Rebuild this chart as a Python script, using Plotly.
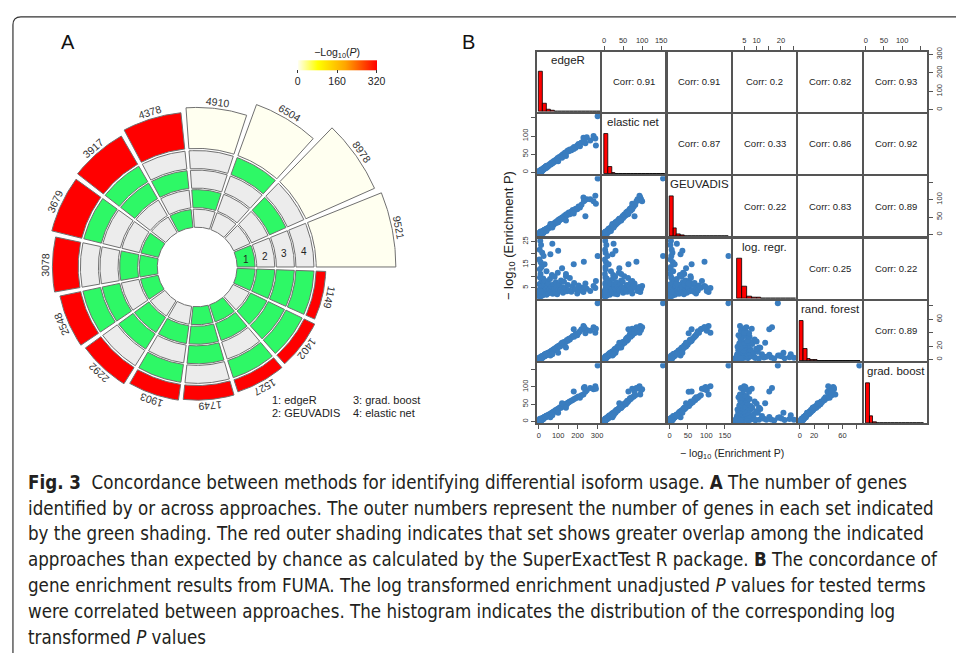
import numpy as np
import plotly.graph_objects as go
from plotly.colors import sample_colorscale

W, H = 959, 653

# ---------------- Panel A data ----------------
set_counts = [9521, 8978, 6504, 4910, 4378, 3917, 3679, 3078, 2548, 2292, 1903, 1749, 1527, 1402, 1149]
# ring membership (1: edgeR, 2: GEUVADIS, 3: grad. boost, 4: elastic net)
in_edgeR     = [1, 0, 0, 0, 1, 0, 1, 1, 1, 0, 0, 1, 1, 0, 1]
in_geuvadis  = [0, 0, 0, 1, 0, 0, 0, 1, 0, 1, 1, 1, 1, 1, 1]
in_gradboost = [0, 1, 0, 0, 1, 1, 0, 0, 1, 1, 0, 1, 0, 1, 1]
in_elastic   = [0, 0, 1, 0, 0, 1, 1, 0, 1, 0, 1, 0, 1, 1, 1]
set_neglog10p = [0, 0, 0, 0, 320, 320, 320, 320, 320, 320, 320, 320, 320, 320, 320]
ring_numbers = ["1", "2", "3", "4"]
legend_entries = ["1: edgeR", "2: GEUVADIS", "3: grad. boost", "4: elastic net"]
cbar_ticks = [0, 160, 320]

# ---------------- Panel B data ----------------
methods = ["edgeR", "elastic net", "GEUVADIS", "log. regr.", "rand. forest", "grad. boost"]

edgeR_p = [3, 5, 7, 9, 11, 13, 15, 17, 19, 4,
           6, 8, 10, 12, 14, 16, 18, 20, 2.5, 22,
           24, 26, 28, 30, 32, 34, 36, 38, 40, 6.5,
           9.5, 12.5, 23, 27, 31, 35, 42, 45, 48, 50,
           55, 58, 62, 65, 68, 72, 75, 78, 82, 85,
           88, 92, 95, 98, 102, 106, 110, 115, 120, 125,
           130, 135, 140, 145, 150, 155, 160, 168, 175, 182,
           190, 198, 205, 212, 220, 230, 240, 247, 265, 282,
           291, 294, 303, 236, 232, 180, 120, 8, 12, 5,
           18, 25, 3.5, 10, 30, 15, 6, 40, 60, 100,
           70, 140, 2, 4.5, 7.5, 9, 14, 21, 3, 11]
enet_p = [1.5, 2, 3, 2.5, 4, 5, 6, 4.5, 7, 3,
          1.2, 4, 5.5, 3.5, 7.5, 2.5, 8, 6.5, 1.4, 9,
          8.5, 10, 11, 9.5, 13, 12, 14, 11.5, 15, 3.5,
          2, 6, 7, 12.5, 10.5, 16, 13.5, 17, 16, 19,
          20, 23, 21, 26, 24, 28, 27, 31, 29, 33,
          32, 36, 35, 39, 38, 42, 41, 45, 47, 50,
          49, 54, 53, 57, 60, 58, 63, 61, 66, 70,
          68, 74, 78, 72, 82, 95, 80, 97, 88, 100,
          93, 74, 155, 92, 85, 64, 40, 3, 6, 2.5,
          4, 9, 1.8, 5, 12, 3.5, 4, 18, 22, 30,
          25, 45, 1.3, 2.2, 1.6, 3.8, 2.8, 5.8, 2.7, 1.8]
geuv_p = [2, 1.8, 4, 3, 5, 4, 7, 6, 5.5, 2.5,
          3.5, 1.5, 6.5, 8, 3, 5, 9, 8.5, 1.4, 7,
          11, 9.5, 12, 10, 14, 11.5, 13, 16, 15, 5,
          2.2, 3.5, 6, 8, 13, 12, 17, 15.5, 19, 18,
          22, 20, 25, 24, 28, 26, 31, 29, 33, 32,
          36, 34, 39, 37, 42, 40, 45, 44, 49, 47,
          53, 52, 57, 55, 60, 63, 58, 66, 70, 68,
          74, 72, 80, 77, 85, 106, 52, 101, 101, 95,
          111, 88, 160, 98, 95, 60, 45, 4, 2.5, 6,
          8, 5, 3, 9, 14, 3.5, 2, 10, 30, 35,
          20, 40, 1.3, 1.6, 2.8, 4.5, 2.2, 4, 3.2, 6.8]
logr_p = [1.6, 2.2, 3.0, 1.9, 2.6, 4.1, 3.3, 2.1, 5.2, 6.5,
          2.8, 4.6, 1.5, 7.2, 3.8, 2.4, 8.5, 1.8, 3.5, 4.4,
          2.9, 6.1, 3.6, 2.3, 5.0, 7.8, 3.1, 4.8, 2.0, 9.5,
          11, 5.8, 9.0, 6.8, 8.0, 4.0, 6.0, 3.4, 7.0, 2.7,
          4.3, 8.8, 3.2, 5.5, 10.5, 2.5, 6.4, 4.5, 9.8, 3.0,
          7.4, 5.1, 2.2, 11.5, 4.2, 6.6, 3.7, 8.2, 5.3, 2.9,
          7.6, 4.9, 10.0, 3.5, 6.2, 4.0, 9.2, 3.3, 5.7, 7.1,
          4.4, 2.6, 6.0, 3.9, 5.0, 3.2, 6.9, 4.6, 3.6, 5.8,
          4.9, 8.0, 18.7, 5.4, 16.3, 15.2, 13.5, 25.3, 23.5, 21.5,
          20.2, 18.8, 17.2, 16.0, 15.2, 14.0, 13.0, 12.2, 19.5, 21.0,
          24.0, 11.0, 1.3, 1.4, 1.7, 1.35, 1.45, 2.0, 4.0, 3.3]
rf_p = [1.4, 1.8, 2, 3, 2.5, 3.5, 2.8, 4, 3.2, 2.2,
        1.3, 2.6, 1.9, 4.5, 3.8, 2.1, 5, 4.2, 1.5, 5.5,
        4.8, 6, 5.2, 6.8, 7, 5.8, 8, 6.5, 7.5, 2.4,
        1.6, 3, 4, 6.2, 5, 8.5, 9, 7.8, 10, 9.5,
        11, 10.5, 12, 13, 11.5, 14, 15, 13.5, 16, 17,
        15.5, 18, 19, 17.5, 20, 21, 19.5, 23, 22, 24,
        26, 25, 27, 29, 28, 31, 30, 33, 35, 34,
        38, 36, 40, 42, 45, 50, 39, 44, 43, 48,
        40, 46, 84, 47, 48, 45, 25, 2.5, 3.5, 2,
        5, 6, 1.5, 3, 7, 4, 3.2, 8, 6, 10,
        8, 18, 1.3, 1.2, 2.0, 1.7, 2.3, 3, 1.8, 1.4]
gb_p = [2, 3, 4, 3.5, 5, 6, 5.5, 7, 8, 2.5,
        4.5, 2, 6, 4, 9, 7.5, 6.5, 10, 1.5, 9.5,
        11, 8.5, 12, 13, 11.5, 14, 15, 13.5, 16, 3.5,
        5, 7, 7.5, 10.5, 12.5, 12, 17, 15, 18, 19,
        21, 20, 23, 22, 25, 27, 26, 29, 30, 31,
        33, 32, 35, 36, 37, 39, 41, 40, 44, 46,
        45, 49, 51, 50, 54, 56, 58, 60, 62, 65,
        67, 70, 72, 69, 76, 78, 86, 90, 97, 93,
        102, 95, 162, 100, 97, 87, 53, 5, 7, 4,
        9, 11, 3, 6, 13, 5, 8, 16, 12, 25,
        18, 40, 1.3, 1.8, 2.8, 4.2, 3.2, 6, 1.6, 2.6]

# histogram counts (per bin) and bin definitions
edgeR_hist = [300, 58, 15, 6, 4, 3, 2, 1, 1, 1, 1, 0, 1, 1, 1, 1]
enet_hist = [300, 50, 8, 4, 3, 2, 2, 1, 1, 1, 1, 0, 0, 0, 0, 1]
geuv_hist = [300, 57, 12, 5, 3, 2, 2, 1, 1, 1, 1, 0, 0, 0, 0, 1]
logr_hist = [300, 87, 18, 9, 5, 4, 3, 4, 4, 3, 3, 2]
rf_hist = [300, 93, 18, 8, 5, 3, 2, 2, 1, 1, 1, 0, 0, 0, 0, 0, 1]
gb_hist = [300, 54, 9, 4, 3, 2, 2, 1, 1, 1, 1, 0, 0, 0, 0, 1]
hist_start = [0, 0, 0, 2, 0, 0]
hist_binwidth = [20, 10, 10, 2, 5, 10]

corr_text = [["", "0.91", "0.91", "0.2", "0.82", "0.93"],
             ["", "", "0.87", "0.33", "0.86", "0.92"],
             ["", "", "", "0.22", "0.83", "0.89"],
             ["", "", "", "", "0.25", "0.22"],
             ["", "", "", "", "", "0.89"],
             ["", "", "", "", "", ""]]

# labelled ticks and unlabelled tick marks, per variable (x = top/bottom axes, y = left/right axes)
x_ticks_labelled = [[0, 100, 200, 300], [0, 50, 100, 150], [0, 50, 100, 150],
                    [5, 10, 20], [0, 20, 60], [0, 50, 100]]
x_ticks_bare = [[], [], [], [15, 25], [40, 80], [150]]
y_ticks_labelled = [[0, 100, 200, 300], [0, 50, 100], [0, 50, 100],
                    [5, 15, 25], [0, 20, 60], [0, 50, 100]]
y_ticks_bare = [[], [150], [150], [10, 20], [40, 80], [150]]

caption_lines = [
    "<b>Fig. 3</b>  Concordance between methods for identifying differential isoform usage. <b>A</b> The number of genes",
    "identified by or across approaches. The outer numbers represent the number of genes in each set indicated",
    "by the green shading. The red outer shading indicates that set shows greater overlap among the indicated",
    "approaches than expected by chance as calculated by the SuperExactTest R package. <b>B</b> The concordance of",
    "gene enrichment results from FUMA. The log transformed enrichment unadjusted <i>P</i> values for tested terms",
    "were correlated between approaches. The histogram indicates the distribution of the corresponding log",
    "transformed <i>P</i> values",
]

# ---------------- styles ----------------
FONT = "Liberation Sans, Arial, sans-serif"
CAP_FONT = "DejaVu Sans Condensed, Liberation Sans Narrow, Arial Narrow, sans-serif"
GREEN = "#2EF866"
GREY = "#ECECEC"
CELL_LINE = "#707070"
PT_COLOR = "#3A7DBF"
cscale = [[0, "#FFFFF0"], [0.25, "#FFFF00"], [0.6, "#FFA500"], [1, "#FF0000"]]

fig = go.Figure()
annotations = []
layout = {}

# ================= Panel A (circular plot) =================
CX, CY = 197, 264          # centre in page pixels
layout["xaxis37"] = dict(domain=[0, 460 / W], range=[-CX, 460 - CX], visible=False, fixedrange=True)
layout["yaxis37"] = dict(domain=[1 - 440 / H, 1], range=[CY - 440, CY], visible=False, fixedrange=True)

n_sets = len(set_counts)
step = 360 / n_sets
gap = 2.0
hole, ring_w, ring_gap = 39.3, 19.7, 1.6
bar_r0, bar_len = 119.5, 80.0


def wedge(a0, a1, r0, r1, n=40):
    t = np.radians(np.linspace(a0, a1, n))
    xs = np.concatenate([r1 * np.cos(t), r0 * np.cos(t[::-1]), [r1 * np.cos(t[0])]])
    ys = np.concatenate([r1 * np.sin(t), r0 * np.sin(t[::-1]), [r1 * np.sin(t[0])]])
    return list(xs) + [None], list(ys) + [None]


groups = {}


def add_poly(color, xs, ys):
    g = groups.setdefault(color, ([], []))
    g[0].extend(xs)
    g[1].extend(ys)


memberships = [in_edgeR, in_geuvadis, in_gradboost, in_elastic]
max_count = max(set_counts)
bar_colors = sample_colorscale(cscale, [v / 320 for v in set_neglog10p])
for s in range(n_sets):
    a0, a1 = step * s, step * s + step - gap
    for k, mem in enumerate(memberships):
        r0 = hole + ring_w * k + ring_gap / 2
        r1 = hole + ring_w * (k + 1) - ring_gap / 2
        xs, ys = wedge(a0, a1, r0, r1)
        add_poly(GREEN if mem[s] else GREY, xs, ys)
    r_out = bar_r0 + bar_len * set_counts[s] / max_count
    xs, ys = wedge(a0, a1, bar_r0, r_out)
    add_poly(bar_colors[s], xs, ys)
    # count label
    tc = (a0 + a1) / 2
    rl = r_out + 7
    ang = 90 - tc
    while ang <= -180:
        ang += 360
    annotations.append(dict(x=rl * np.cos(np.radians(tc)), y=rl * np.sin(np.radians(tc)),
                            xref="x37", yref="y37", text=f"{set_counts[s]}", showarrow=False,
                            textangle=ang, font=dict(family=FONT, size=10.5, color="#333"),
                            xanchor="center", yanchor="middle"))

for color, (xs, ys) in groups.items():
    fig.add_trace(go.Scatter(x=xs, y=ys, xaxis="x37", yaxis="y37", mode="lines", fill="toself",
                             fillcolor=color, line=dict(color=CELL_LINE, width=1),
                             hoverinfo="skip", showlegend=False))

# ring numbers in first sector
for k, lab in enumerate(ring_numbers):
    rc = hole + ring_w * (k + 0.5)
    annotations.append(dict(x=rc * np.cos(np.radians(8.5)), y=rc * np.sin(np.radians(8.5)),
                            xref="x37", yref="y37", text=lab, showarrow=False,
                            xanchor="center", yanchor="middle",
                            font=dict(family=FONT, size=10, color="#222")))

# legend text
leg_pos = [(73, -134), (73, -147), (154, -134), (154, -147)]
for (lx, ly), t in zip(leg_pos, legend_entries):
    annotations.append(dict(x=lx, y=ly, xref="x37", yref="y37", text=t, showarrow=False,
                            xanchor="left", yanchor="middle",
                            font=dict(family=FONT, size=11, color="#222")))

# colour bar for -log10(P)
fig.add_trace(go.Scatter(x=[None], y=[None], xaxis="x37", yaxis="y37", mode="markers",
                         marker=dict(color=set_neglog10p, colorscale=cscale, cmin=0, cmax=320,
                                     showscale=True,
                                     colorbar=dict(orientation="h", x=337.5 / W, xanchor="center",
                                                   y=1 - 62 / H, yanchor="middle",
                                                   len=79, lenmode="pixels", thickness=10,
                                                   thicknessmode="pixels", outlinewidth=0,
                                                   ticks="outside", ticklen=3, tickcolor="#333",
                                                   tickvals=cbar_ticks,
                                                   tickfont=dict(family=FONT, size=10.5, color="#222"),
                                                   title=dict(text="\u2212Log<sub>10</sub>(<i>P</i>)",
                                                              side="top",
                                                              font=dict(family=FONT, size=10.5, color="#222")),
                                                   xpad=0, ypad=0)),
                         hoverinfo="skip", showlegend=False))

# ================= Panel B (pairs plot) =================
vals = [edgeR_p, enet_p, geuv_p, logr_p, rf_p, gb_p]
hists = [edgeR_hist, enet_hist, geuv_hist, logr_hist, rf_hist, gb_hist]


def pad_range(v):
    lo, hi = min(v), max(v)
    d = hi - lo
    return [lo - 0.04 * d, hi + 0.04 * d]


rngs = [pad_range(v) for v in vals]
col_left0, col_pitch, pw = 538.0, 65.7, 63.5
row_top0, row_pitch, ph = 47.0, 62.8, 60.5
LINE_C = "#555"
TICKFONT = dict(family=FONT, size=7.5, color="#333")


def tick_setup(labelled, bare):
    d = dict(ticks="outside", ticklen=4, tickwidth=1, tickcolor=LINE_C,
             tickvals=labelled, ticktext=[str(v) for v in labelled],
             showticklabels=True, tickfont=TICKFONT)
    if bare:
        d["minor"] = dict(tickvals=bare, ticks="outside", ticklen=4, tickwidth=1, tickcolor=LINE_C,
                          showgrid=False)
    return d


for i in range(6):
    for j in range(6):
        k = i * 6 + j + 1
        sx = "" if k == 1 else str(k)
        x0 = col_left0 + col_pitch * j
        y0 = row_top0 + row_pitch * i
        xa = dict(domain=[x0 / W, (x0 + pw) / W], range=rngs[j], anchor="y" + sx,
                  showline=True, mirror=True, linecolor=LINE_C, linewidth=1.5,
                  showgrid=False, zeroline=False, fixedrange=True)
        ya = dict(domain=[1 - (y0 + ph) / H, 1 - y0 / H], anchor="x" + sx,
                  range=[0, 1.5] if i == j else rngs[i],
                  showline=True, mirror=True, linecolor=LINE_C, linewidth=1.5,
                  showgrid=False, zeroline=False, fixedrange=True)
        if (i == 0 and j % 2 == 1) or (i == 5 and j % 2 == 0):
            xa.update(side="top" if i == 0 else "bottom", tickangle=0,
                      **tick_setup(x_ticks_labelled[j], x_ticks_bare[j]))
        else:
            xa.update(ticks="", showticklabels=False)
        if (j == 0 and i % 2 == 1) or (j == 5 and i % 2 == 0):
            ya.update(side="left" if j == 0 else "right", tickangle=-90,
                      **tick_setup(y_ticks_labelled[i], y_ticks_bare[i]))
        else:
            ya.update(ticks="", showticklabels=False)
        layout["xaxis" + sx] = xa
        layout["yaxis" + sx] = ya

        if i > j:
            fig.add_trace(go.Scatter(x=vals[j], y=vals[i], xaxis="x" + sx, yaxis="y" + sx,
                                     mode="markers",
                                     marker=dict(size=6, color=PT_COLOR, line=dict(width=0)),
                                     hoverinfo="skip", showlegend=False))
        elif i == j:
            cnt = hists[i]
            mx = max(cnt)
            centers = [hist_start[i] + hist_binwidth[i] * (b + 0.5) for b in range(len(cnt))]
            fig.add_trace(go.Bar(x=centers, y=[c / mx for c in cnt], width=hist_binwidth[i],
                                 xaxis="x" + sx, yaxis="y" + sx,
                                 marker=dict(color="#FF0000", line=dict(color="black", width=0.8)),
                                 hoverinfo="skip", showlegend=False))
            annotations.append(dict(x=0.5, y=1 - 8 / ph, xref=f"x{sx} domain", yref=f"y{sx} domain",
                                    text=methods[i], showarrow=False,
                                    xanchor="center", yanchor="middle",
                                    font=dict(family=FONT, size=11.5, color="#222")))
        else:
            # empty trace so that the upper-triangle panel (frame and axes) is drawn
            fig.add_trace(go.Scatter(x=[None], y=[None], xaxis="x" + sx, yaxis="y" + sx,
                                     mode="markers", hoverinfo="skip", showlegend=False))
            annotations.append(dict(x=0.5, y=0.5, xref=f"x{sx} domain", yref=f"y{sx} domain",
                                    text=f"Corr: {corr_text[i][j]}", showarrow=False,
                                    xanchor="center", yanchor="middle",
                                    font=dict(family=FONT, size=9.5, color="#222")))

# axis titles for panel B
annotations.append(dict(x=734 / W, y=1 - 452 / H, xref="paper", yref="paper",
                        xanchor="center", yanchor="middle",
                        text="\u2212 log<sub>10</sub> (Enrichment P)", showarrow=False,
                        font=dict(family=FONT, size=10.5, color="#222")))
annotations.append(dict(x=510 / W, y=1 - 232 / H, xref="paper", yref="paper", textangle=-90,
                        xanchor="center", yanchor="middle",
                        text="\u2212 log<sub>10</sub> (Enrichment P)", showarrow=False,
                        font=dict(family=FONT, size=13, color="#222")))

# panel letters
annotations.append(dict(x=67 / W, y=1 - 37 / H, xref="paper", yref="paper", text="A", showarrow=False,
                        xanchor="center", yanchor="middle",
                        font=dict(family=FONT, size=20, color="#111")))
annotations.append(dict(x=469 / W, y=1 - 37 / H, xref="paper", yref="paper", text="B", showarrow=False,
                        xanchor="center", yanchor="middle",
                        font=dict(family=FONT, size=20, color="#111")))

# caption
for n, line in enumerate(caption_lines):
    annotations.append(dict(x=25 / W, y=1 - (481 + 26 * n) / H, xref="paper", yref="paper",
                            text=line, showarrow=False, xanchor="left", yanchor="middle",
                            font=dict(family=CAP_FONT, size=18.6, color="#231F20")))

# frame with rounded top-left corner
x_l, x_c = 12 / W, 20 / W
y_t, y_c = 1 - 12 / H, 1 - 20 / H
shapes = [dict(type="path", xref="paper", yref="paper",
               path=f"M 1,{y_t} L {x_c},{y_t} Q {x_l},{y_t} {x_l},{y_c} L {x_l},0",
               line=dict(color="#333", width=1.2))]

fig.update_layout(width=W, height=H, margin=dict(l=0, r=0, t=0, b=0),
                  paper_bgcolor="white", plot_bgcolor="rgba(0,0,0,0)",
                  showlegend=False, annotations=annotations, shapes=shapes,
                  bargap=0, **layout)
fig.write_html("out.html")
